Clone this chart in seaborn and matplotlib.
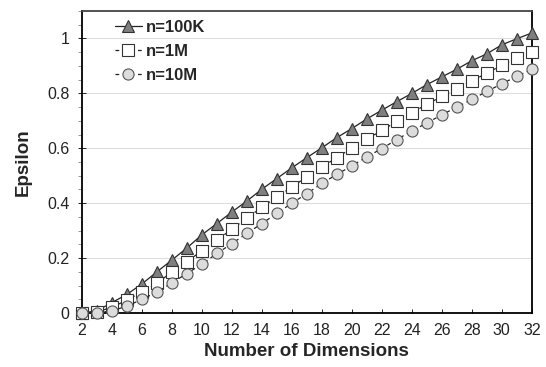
import matplotlib
matplotlib.use("Agg")
import matplotlib.pyplot as plt
import seaborn as sns
import pandas as pd
from matplotlib.ticker import MultipleLocator, FixedLocator

dims = list(range(2, 33))
eps_100k = [0, 0.008, 0.038, 0.068, 0.106, 0.15, 0.193, 0.237, 0.285, 0.326,
            0.368, 0.408, 0.451, 0.49, 0.529, 0.566, 0.602, 0.639, 0.672, 0.707,
            0.739, 0.77, 0.80, 0.832, 0.86, 0.888, 0.919, 0.944, 0.977, 0.999, 1.02]
eps_1m = [0, 0.003, 0.022, 0.046, 0.078, 0.108, 0.15, 0.187, 0.227, 0.266,
          0.305, 0.346, 0.385, 0.423, 0.459, 0.496, 0.532, 0.566, 0.601, 0.633,
          0.665, 0.698, 0.73, 0.76, 0.789, 0.817, 0.845, 0.874, 0.902, 0.93, 0.952]
eps_10m = [0, 0.001, 0.008, 0.025, 0.05, 0.076, 0.11, 0.144, 0.178, 0.217,
           0.253, 0.29, 0.326, 0.363, 0.4, 0.435, 0.472, 0.505, 0.536, 0.569,
           0.599, 0.632, 0.663, 0.692, 0.722, 0.75, 0.778, 0.807, 0.835, 0.862, 0.887]
series_labels = ["n=100K", "n=1M", "n=10M"]
x_ticks = list(range(2, 33, 2))
y_ticks = [0, 0.2, 0.4, 0.6, 0.8, 1.0]
y_tick_labels = ["0", "0.2", "0.4", "0.6", "0.8", "1"]

sns.set_theme(style="white")
plt.rcParams['font.family'] = ['Liberation Sans', 'DejaVu Sans']

fig = plt.figure(figsize=(5.46, 3.67), dpi=100)
ax = fig.add_axes([0.150, 0.147, 0.824, 0.823])

df = pd.DataFrame({"dim": dims, "a": eps_100k, "b": eps_1m, "c": eps_10m})

styles = [
    dict(marker="^", markerfacecolor="#7f7f7f", markeredgecolor="#333333", ls="-", ms=8.5),
    dict(marker="s", markerfacecolor="white", markeredgecolor="#333333", ls=(0, (3, 3)), ms=8),
    dict(marker="o", markerfacecolor="#dcdcdc", markeredgecolor="#555555", ls=(0, (3, 3)), ms=8),
]
for col, lab, st in zip(["a", "b", "c"], series_labels, styles):
    sns.lineplot(data=df, x="dim", y=col, ax=ax, color="#222222", linewidth=0.9,
                 markeredgewidth=0.8, label=lab, clip_on=False, zorder=3, **st)

ax.set_xlim(2, 32)
ax.set_ylim(0, 1.1)
ax.set_xticks(x_ticks)
ax.set_xticklabels([str(t) for t in x_ticks])
ax.set_yticks(y_ticks)
ax.set_yticklabels(y_tick_labels)
ax.yaxis.set_minor_locator(MultipleLocator(0.05))
ax.xaxis.set_minor_locator(FixedLocator(list(range(2, 33, 4))))

ax.grid(False)
ax.yaxis.grid(True, which="major", color="#dddddd", linewidth=0.8)
ax.xaxis.grid(True, which="minor", color="#dddddd", linewidth=0.8)
ax.set_axisbelow(True)

ax.tick_params(axis="x", which="major", direction="in", length=3, width=0.7,
               labelsize=11.5, colors="#222222", pad=7)
ax.tick_params(axis="y", which="major", direction="inout", length=6, width=0.7,
               labelsize=11.5, colors="#222222", pad=6)
ax.tick_params(axis="y", which="minor", direction="out", length=3, width=0.6, color="#888888")
ax.tick_params(axis="x", which="minor", length=0)
ax.tick_params(axis="both", which="both", bottom=True, left=True)

for s in ["left", "bottom", "right"]:
    ax.spines[s].set_color("black")
    ax.spines[s].set_linewidth(1.3)
ax.spines["top"].set_color("#444444")
ax.spines["top"].set_linewidth(1.3)

ax.set_xlabel("Number of Dimensions", fontsize=13.5, fontweight="bold", labelpad=4)
ax.set_ylabel("Epsilon", fontsize=13.5, fontweight="bold", labelpad=11)

leg = ax.legend(loc="upper left", bbox_to_anchor=(0.04, 1.02), frameon=False,
                handlelength=1.6, handletextpad=0.25, labelspacing=0.55,
                prop={"weight": "bold", "size": 12})

fig.savefig("out.png", dpi=100)
